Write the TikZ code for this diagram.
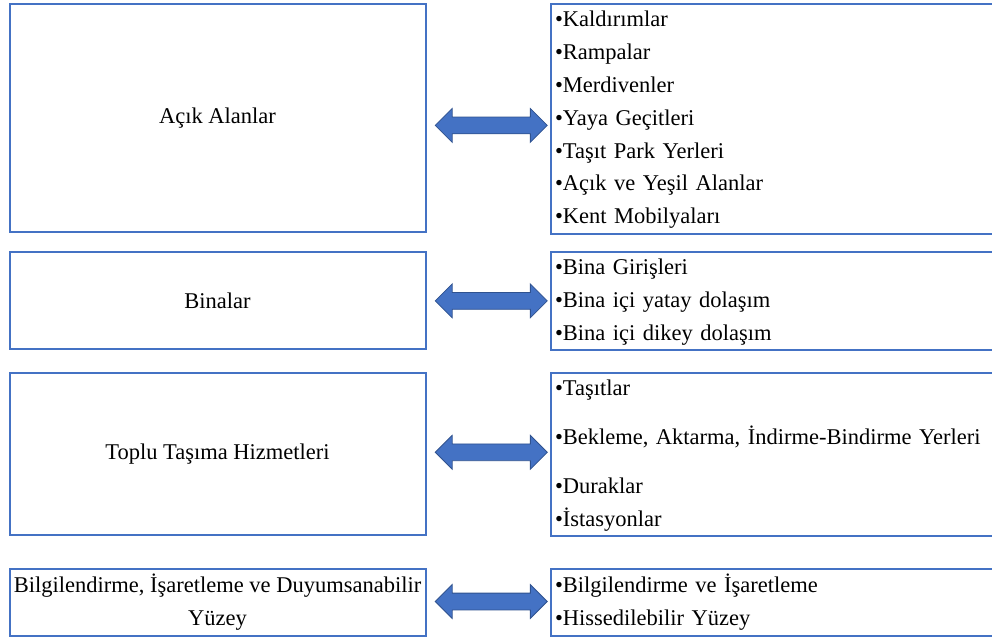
\documentclass[tikz,border=0pt]{standalone}
\usepackage{fontspec}
\setmainfont{Liberation Serif}
\usetikzlibrary{shapes.arrows,calc}

\definecolor{boxblue}{HTML}{4472C4}
\definecolor{arrowedge}{HTML}{2F528F}
\newcommand{\itm}[1]{\strut•#1}

\begin{document}
\begin{tikzpicture}[x=1pt,y=-1pt,
    font=\fontsize{22.5}{32.8}\selectfont,
    lbox/.style={draw=boxblue, line width=2pt, anchor=north west, minimum width=416pt, align=center, inner sep=0pt},
    rbox/.style={draw=boxblue, line width=2pt, anchor=north west, text width=440pt, align=left, inner xsep=4pt, inner ysep=0pt},
    dblarr/.style={double arrow, fill=boxblue, draw=arrowedge, line width=0.8pt, minimum height=112pt, inner xsep=0pt, inner ysep=8pt, double arrow head extend=8.5pt, double arrow tip angle=90}]
\useasboundingbox (0,0) rectangle (992,637);

% left column
\node[lbox, minimum height=228pt] (acik) at (8.5,3) {Açık Alanlar};
\node[lbox, minimum height=97pt] (bina) at (8.5,251) {Binalar};
\node[lbox, minimum height=162pt] (toplu) at (8.5,372) {Toplu Taşıma Hizmetleri};
\node[lbox, minimum height=67pt] (bilgi) at (8.5,568) {Bilgilendirme, İşaretleme ve Duyumsanabilir\\Yüzey};

% right column
\node[rbox, minimum height=228pt] (acikR) at (550,3) {\itm{Kaldırımlar}\\\itm{Rampalar}\\\itm{Merdivenler}\\\itm{Yaya Geçitleri}\\\itm{Taşıt Park Yerleri}\\\itm{Açık ve Yeşil Alanlar}\\\itm{Kent Mobilyaları}};
\node[rbox, minimum height=97pt] (binaR) at (550,251) {\itm{Bina Girişleri}\\\itm{Bina içi yatay dolaşım}\\\itm{Bina içi dikey dolaşım}};
\node[rbox, minimum height=162pt] (topluR) at (550,372) {\itm{Taşıtlar}\\[16pt]\itm{Bekleme, Aktarma, İndirme-Bindirme Yerleri}\\[16pt]\itm{Duraklar}\\\itm{İstasyonlar}};
\node[rbox, minimum height=67pt] (bilgiR) at (550,568) {\itm{Bilgilendirme ve İşaretleme}\\\itm{Hissedilebilir Yüzey}};

% arrows
\node[dblarr] (ok1) at ($(acik.east)!0.5!(acikR.west)+(3,7)$) {};
\node[dblarr] (ok2) at ($(bina.east)!0.5!(binaR.west)+(3,0)$) {};
\node[dblarr] (ok3) at ($(toplu.east)!0.5!(topluR.west)+(3,-2)$) {};
\node[dblarr] (ok4) at ($(bilgi.east)!0.5!(bilgiR.west)+(3,-1)$) {};
\end{tikzpicture}
\end{document}
